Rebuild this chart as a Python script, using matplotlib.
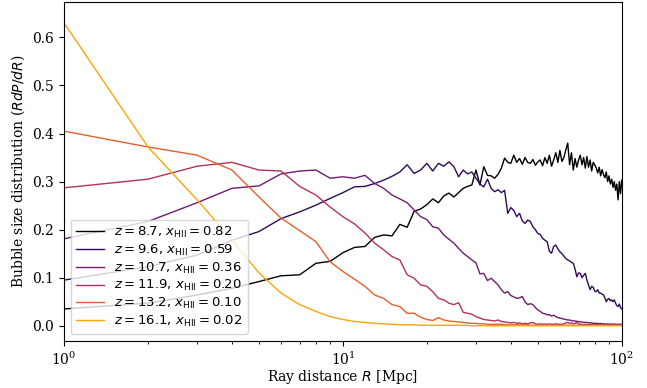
import numpy as np
import matplotlib
matplotlib.use("Agg")
import matplotlib.pyplot as plt

plt.rcParams["font.family"] = "DejaVu Serif"

# ray distance in Mpc (integer bins 1..100)
R = np.arange(1, 101)

redshifts = [8.7, 9.6, 10.7, 11.9, 13.2, 16.1]
x_hii = [0.82, 0.59, 0.36, 0.20, 0.10, 0.02]

# R dP/dR, one list per redshift
rdpdr_z87 = [
    0.035, 0.047, 0.064, 0.078, 0.092, 0.104, 0.106, 0.130, 0.134, 0.152,
    0.163, 0.165, 0.184, 0.189, 0.187, 0.211, 0.205, 0.238, 0.243, 0.252,
    0.264, 0.256, 0.270, 0.276, 0.268, 0.277, 0.286, 0.290, 0.293, 0.324,
    0.293, 0.331, 0.313, 0.312, 0.307, 0.315, 0.328, 0.349, 0.340, 0.338,
    0.355, 0.340, 0.348, 0.336, 0.350, 0.340, 0.338, 0.346, 0.334, 0.341,
    0.345, 0.333, 0.350, 0.338, 0.355, 0.332, 0.345, 0.360, 0.340, 0.365,
    0.342, 0.350, 0.366, 0.380, 0.335, 0.360, 0.324, 0.348, 0.330, 0.345,
    0.355, 0.335, 0.350, 0.328, 0.352, 0.330, 0.345, 0.322, 0.340, 0.335,
    0.328, 0.318, 0.330, 0.312, 0.325, 0.315, 0.308, 0.320, 0.300, 0.312,
    0.295, 0.305, 0.288, 0.300, 0.282, 0.295, 0.262, 0.300, 0.275, 0.303,
]
rdpdr_z96 = [
    0.095, 0.123, 0.147, 0.178, 0.196, 0.223, 0.237, 0.251, 0.265, 0.277,
    0.289, 0.290, 0.296, 0.303, 0.311, 0.320, 0.335, 0.317, 0.324, 0.338,
    0.322, 0.338, 0.332, 0.341, 0.331, 0.310, 0.324, 0.316, 0.320, 0.307,
    0.295, 0.289, 0.305, 0.286, 0.279, 0.283, 0.277, 0.282, 0.234, 0.246,
    0.240, 0.227, 0.234, 0.218, 0.213, 0.220, 0.217, 0.206, 0.200, 0.192,
    0.190, 0.182, 0.178, 0.175, 0.155, 0.151, 0.165, 0.168, 0.160, 0.154,
    0.150, 0.145, 0.140, 0.137, 0.135, 0.132, 0.130, 0.118, 0.102, 0.110,
    0.109, 0.100, 0.105, 0.109, 0.095, 0.085, 0.075, 0.082, 0.080, 0.072,
    0.071, 0.075, 0.068, 0.068, 0.066, 0.064, 0.058, 0.050, 0.055, 0.057,
    0.052, 0.054, 0.050, 0.054, 0.047, 0.042, 0.040, 0.045, 0.038, 0.035,
]
rdpdr_z107 = [
    0.181, 0.217, 0.256, 0.286, 0.291, 0.316, 0.322, 0.324, 0.307, 0.310,
    0.307, 0.313, 0.296, 0.286, 0.272, 0.264, 0.256, 0.241, 0.227, 0.221,
    0.206, 0.203, 0.189, 0.180, 0.172, 0.161, 0.151, 0.144, 0.137, 0.131,
    0.108, 0.109, 0.094, 0.099, 0.092, 0.085, 0.075, 0.068, 0.071, 0.063,
    0.060, 0.057, 0.058, 0.061, 0.050, 0.044, 0.046, 0.044, 0.038, 0.033,
    0.030, 0.026, 0.025, 0.023, 0.023, 0.020, 0.022, 0.019, 0.017, 0.016,
    0.015, 0.014, 0.013, 0.012, 0.012, 0.011, 0.010, 0.010, 0.009, 0.009,
    0.008, 0.008, 0.007, 0.007, 0.007, 0.006, 0.006, 0.006, 0.005, 0.005,
    0.005, 0.005, 0.004, 0.005, 0.004, 0.004, 0.004, 0.003, 0.004, 0.003,
    0.004, 0.003, 0.003, 0.004, 0.003, 0.003, 0.003, 0.003, 0.003, 0.003,
]
rdpdr_z119 = [
    0.287, 0.305, 0.332, 0.340, 0.324, 0.322, 0.290, 0.272, 0.247, 0.227,
    0.212, 0.193, 0.172, 0.158, 0.144, 0.137, 0.106, 0.099, 0.085, 0.082,
    0.071, 0.057, 0.054, 0.047, 0.044, 0.048, 0.028, 0.026, 0.024, 0.019,
    0.016, 0.013, 0.012, 0.011, 0.010, 0.012, 0.009, 0.008, 0.007, 0.006,
    0.007, 0.005, 0.006, 0.004, 0.005, 0.004, 0.006, 0.007, 0.004, 0.003,
    0.004, 0.003, 0.004, 0.003, 0.004, 0.003, 0.003, 0.004, 0.003, 0.003,
    0.003, 0.004, 0.006, 0.007, 0.005, 0.006, 0.004, 0.005, 0.007, 0.004,
    0.003, 0.003, 0.002, 0.003, 0.002, 0.002, 0.003, 0.002, 0.002, 0.002,
    0.002, 0.002, 0.002, 0.002, 0.001, 0.002, 0.002, 0.001, 0.002, 0.001,
    0.001, 0.001, 0.001, 0.001, 0.001, 0.001, 0.001, 0.001, 0.001, 0.001,
]
rdpdr_z132 = [
    0.405, 0.372, 0.355, 0.324, 0.268, 0.224, 0.198, 0.175, 0.133, 0.113,
    0.097, 0.082, 0.064, 0.057, 0.044, 0.040, 0.026, 0.026, 0.018, 0.013,
    0.011, 0.017, 0.012, 0.010, 0.009, 0.008, 0.007, 0.006, 0.005, 0.005,
    0.004, 0.004, 0.003, 0.003, 0.003, 0.003, 0.003, 0.002, 0.002, 0.002,
    0.002, 0.002, 0.002, 0.002, 0.002, 0.002, 0.001, 0.001, 0.001, 0.001,
    0.001, 0.001, 0.001, 0.001, 0.001, 0.001, 0.001, 0.001, 0.001, 0.001,
    0.001, 0.001, 0.001, 0.001, 0.001, 0.001, 0.001, 0.001, 0.001, 0.001,
    0.001, 0.001, 0.001, 0.001, 0.001, 0.001, 0.001, 0.001, 0.001, 0.001,
    0.001, 0.001, 0.001, 0.001, 0.001, 0.001, 0.001, 0.001, 0.001, 0.001,
    0.001, 0.001, 0.001, 0.001, 0.001, 0.001, 0.001, 0.001, 0.001, 0.001,
]
rdpdr_z161 = [
    0.630, 0.372, 0.262, 0.179, 0.110, 0.068, 0.044, 0.030, 0.019, 0.013,
    0.009, 0.007, 0.005, 0.004, 0.003, 0.002, 0.002, 0.002, 0.001, 0.001,
    0.001, 0.001, 0.001, 0.001, 0.001, 0.001, 0.001, 0.001, 0.000, 0.000,
    0.000, 0.000, 0.000, 0.000, 0.000, 0.000, 0.000, 0.000, 0.000, 0.000,
    0.000, 0.000, 0.000, 0.000, 0.000, 0.000, 0.000, 0.000, 0.000, 0.000,
    0.000, 0.000, 0.000, 0.000, 0.000, 0.000, 0.000, 0.000, 0.000, 0.000,
    0.000, 0.000, 0.000, 0.000, 0.000, 0.000, 0.000, 0.000, 0.000, 0.000,
    0.000, 0.000, 0.000, 0.000, 0.000, 0.000, 0.000, 0.000, 0.000, 0.000,
    0.000, 0.000, 0.000, 0.000, 0.000, 0.000, 0.000, 0.000, 0.000, 0.000,
    0.000, 0.000, 0.000, 0.000, 0.000, 0.000, 0.000, 0.000, 0.000, 0.000,
]

series = [rdpdr_z87, rdpdr_z96, rdpdr_z107, rdpdr_z119, rdpdr_z132, rdpdr_z161]
colors = plt.cm.inferno(np.linspace(0.0, 0.8, len(series)))

fig = plt.figure(figsize=(6.47, 3.88), dpi=100)
ax = fig.add_axes([0.099, 0.122, 0.862, 0.872])

for y, z, xh, c in zip(series, redshifts, x_hii, colors):
    ax.plot(R, y, color=c, lw=1.0,
            label=rf"$z = {z:.1f}$, $x_{{\rm HII}} = {xh:.2f}$")

ax.set_xscale("log")
ax.set_xlim(1, 100)
ax.set_ylim(-0.031, 0.673)
ax.set_xlabel(r"Ray distance $R$ [Mpc]", labelpad=0.5)
ax.set_ylabel(r"Bubble size distribution ($RdP/dR$)")
ax.legend(loc="lower left", prop={"family": "DejaVu Sans", "size": 9.5},
          labelspacing=0.2, handlelength=2.1)

fig.savefig("out.png", dpi=100)
